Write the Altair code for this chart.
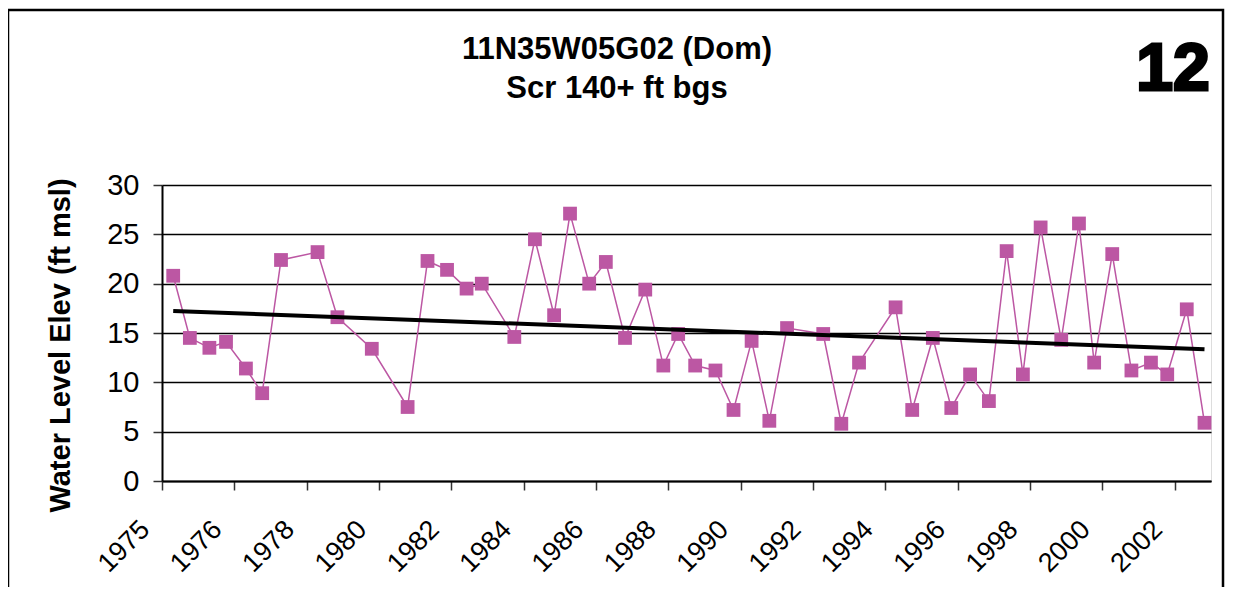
import altair as alt
import pandas as pd

# ---- data ----
years = [1974.31, 1974.77, 1975.31, 1975.77, 1976.32, 1976.77, 1977.29, 1978.30,
         1978.85, 1979.80, 1980.79, 1981.34, 1981.88, 1982.42, 1982.84, 1983.74,
         1984.31, 1984.84, 1985.28, 1985.81, 1986.27, 1986.80, 1987.36, 1987.86,
         1988.27, 1988.74, 1989.30, 1989.80, 1990.30, 1990.79, 1991.28, 1992.28,
         1992.78, 1993.27, 1994.28, 1994.74, 1995.31, 1995.82, 1996.34, 1996.86,
         1997.35, 1997.80, 1998.29, 1998.86, 1999.35, 1999.77, 2000.27, 2000.80,
         2001.34, 2001.79, 2002.33, 2002.82]
levels = [20.8, 14.5, 13.5, 14.1, 11.4, 8.9, 22.4, 23.2,
          16.6, 13.4, 7.5, 22.3, 21.4, 19.5, 20.0, 14.6,
          24.5, 16.8, 27.1, 20.0, 22.2, 14.5, 19.4, 11.7,
          14.9, 11.7, 11.2, 7.2, 14.2, 6.1, 15.5, 14.9,
          5.8, 12.0, 17.6, 7.2, 14.5, 7.4, 10.8, 8.1,
          23.3, 10.8, 25.7, 14.3, 26.1, 12.0, 23.0, 11.2,
          12.0, 10.8, 17.4, 5.9]

tick_values = [1974, 1976, 1978, 1980, 1982, 1984, 1986, 1988, 1990, 1992,
               1994, 1996, 1998, 2000, 2002]
tick_labels = ["1975", "1976", "1978", "1980", "1982", "1984", "1986", "1988",
               "1990", "1992", "1994", "1996", "1998", "2000", "2002"]
y_ticks = [0, 5, 10, 15, 20, 25, 30]

title_lines = ["11N35W05G02 (Dom)", "Scr 140+ ft bgs"]
badge = "12"
y_title = "Water Level Elev (ft msl)"

df = pd.DataFrame({"yr": years, "lvl": levels})

FONT = "Liberation Sans"
COLOR = "#BC57A3"

label_expr = " : ".join(
    f"datum.value == {v} ? '{l}'" for v, l in zip(tick_values, tick_labels)
) + " : ''"

x_enc = alt.X(
    "yr:Q",
    scale=alt.Scale(domain=[1974, 2003], nice=False, zero=False),
    axis=alt.Axis(
        values=tick_values, labelExpr=label_expr, title=None, grid=False,
        labelAngle=-45, labelAlign="right", labelBaseline="middle",
        labelPadding=35, labelOffset=-17, labelFontSize=27, labelFont=FONT,
        labelColor="black", tickSize=9, tickColor="#333", tickWidth=1.5,
        domainColor="black", domainWidth=2, labelOverlap=False,
    ),
)
y_enc = alt.Y(
    "lvl:Q",
    scale=alt.Scale(domain=[0, 30], nice=False),
    axis=alt.Axis(
        values=y_ticks, title=y_title, titleFont=FONT, titleFontSize=29,
        titleFontWeight="bold", titleColor="black", titleAngle=-90,
        titleX=-102, titleY=160, titleAlign="center", titleBaseline="middle",
        labelFontSize=29, labelFont=FONT, labelColor="black", labelPadding=14,
        tickSize=9, tickColor="#333", tickWidth=1.5, domainColor="black",
        domainWidth=2, grid=True, gridColor="black", gridWidth=1.3,
    ),
)

base = alt.Chart(df)
line = base.mark_line(color=COLOR, strokeWidth=1.5).encode(x=x_enc, y=y_enc)
pts = base.mark_point(shape="square", filled=True, size=190, color=COLOR,
                      opacity=1).encode(x="yr:Q", y="lvl:Q")
trend = base.transform_regression("yr", "lvl").mark_line(
    color="black", strokeWidth=4).encode(x="yr:Q", y="lvl:Q")

one = alt.Data(values=[{}])
frame = alt.Chart(one).mark_rect(fill=None, stroke="black", strokeWidth=2.5).encode(
    x=alt.value(-154), x2=alt.value(1061), y=alt.value(-175), y2=alt.value(430))

title1 = alt.Chart(one).mark_text(
    text=title_lines[0], font=FONT, fontSize=31, fontWeight="bold", color="black",
    align="center", baseline="alphabetic").encode(x=alt.value(455), y=alt.value(-126))
title2 = alt.Chart(one).mark_text(
    text=title_lines[1], font=FONT, fontSize=31, fontWeight="bold", color="black",
    align="center", baseline="alphabetic").encode(x=alt.value(455), y=alt.value(-87))
badge_t = alt.Chart(one).mark_text(
    text=badge, font=FONT, fontSize=66, fontWeight="bold",
    color="black", stroke="black", strokeWidth=3, align="center",
    baseline="alphabetic").encode(x=alt.value(1011), y=alt.value(-95))

chart = alt.layer(frame, line, pts, trend, title1, title2, badge_t).properties(
    width=1049, height=296,
    autosize=alt.AutoSizeParams(type="none"),
    padding={"left": 154, "top": 177, "right": 14, "bottom": 106},
).configure_view(stroke="#444", strokeWidth=1.5).configure(background="white")

chart.save("out.html", embed_options={"renderer": "svg", "actions": False})
